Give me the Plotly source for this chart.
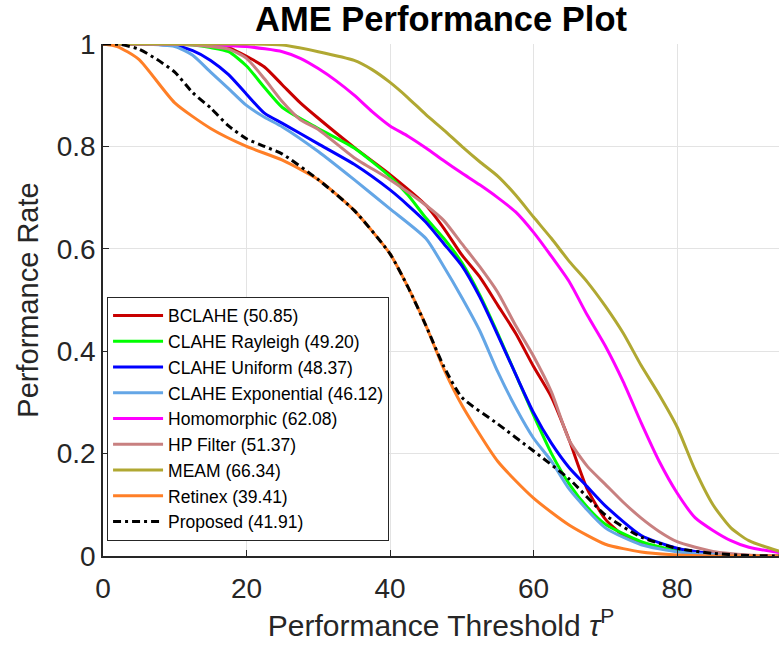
import plotly.graph_objects as go

# ---- data ----
bclahe_x = [0,5,10,15,17.5,20,22.5,25,27.5,30,35,40,45,47.5,50,52.5,55,57.5,60,62.5,65,67.5,70,72.5,75,80,85,90,95]
bclahe_y = [1,1,1,0.998,0.993,0.976,0.955,0.92,0.885,0.855,0.798,0.745,0.685,0.64,0.588,0.545,0.49,0.435,0.37,0.31,0.225,0.13,0.072,0.04,0.025,0.01,0.003,0.001,0]

rayleigh_x = [0,5,10,12.5,15,17.5,20,22.5,25,30,35,40,42.5,45,47.5,50,52.5,55,57.5,60,62.5,65,67.5,70,75,80,85,90,95]
rayleigh_y = [1,1,1,0.998,0.993,0.985,0.957,0.915,0.876,0.835,0.797,0.741,0.705,0.66,0.62,0.573,0.51,0.435,0.355,0.275,0.2,0.14,0.095,0.062,0.028,0.01,0.003,0.001,0]

uniform_x = [0,5,10,12.5,15,17.5,20,22.5,25,30,35,40,42.5,45,47.5,50,52.5,55,57.5,60,62.5,65,67.5,70,75,80,85,90,95]
uniform_y = [1,1,0.997,0.987,0.968,0.94,0.902,0.865,0.845,0.805,0.765,0.715,0.685,0.652,0.61,0.567,0.506,0.432,0.355,0.28,0.22,0.172,0.135,0.098,0.04,0.015,0.004,0.001,0]

expo_x = [0,5,10,12.5,15,17.5,20,22.5,25,30,35,40,45,47.5,50,52.5,55,57.5,60,62.5,65,70,75,80,85,90,95]
expo_y = [1,1,0.995,0.978,0.945,0.913,0.88,0.857,0.838,0.79,0.735,0.678,0.62,0.565,0.505,0.44,0.36,0.29,0.23,0.185,0.13,0.055,0.022,0.008,0.003,0.001,0]

homo_x = [0,5,10,15,20,25,27.5,30,32.5,35,37.5,40,42.5,45,47.5,50,52.5,55,57.5,60,62.5,65,67.5,70,72.5,75,77.5,80,82.5,85,87.5,90,95]
homo_y = [1,1,1,0.998,0.995,0.985,0.972,0.952,0.928,0.9,0.868,0.84,0.82,0.797,0.772,0.748,0.725,0.7,0.672,0.632,0.585,0.535,0.47,0.41,0.34,0.26,0.185,0.123,0.075,0.05,0.03,0.017,0.005]

hp_x = [0,5,10,12.5,15,17.5,20,22.5,25,27.5,30,35,40,45,47.5,50,52.5,55,57.5,60,62.5,65,67.5,70,72.5,75,77.5,80,85,90,95]
hp_y = [1,1,1,0.998,0.995,0.99,0.972,0.932,0.887,0.852,0.833,0.778,0.735,0.685,0.655,0.61,0.565,0.515,0.45,0.39,0.32,0.225,0.175,0.14,0.105,0.074,0.048,0.028,0.009,0.002,0]

meam_x = [0,10,20,25,30,35,37.5,40,42.5,45,47.5,50,52.5,55,57.5,60,62.5,65,67.5,70,72.5,75,77.5,80,82.5,85,87.5,90,95]
meam_y = [1,1,1,0.998,0.985,0.968,0.95,0.925,0.895,0.862,0.832,0.8,0.77,0.742,0.705,0.662,0.62,0.575,0.535,0.488,0.435,0.372,0.315,0.252,0.168,0.1,0.055,0.03,0.006]

retinex_x = [0,2,5,10,15,20,25,30,35,40,42.5,45,47.5,50,55,60,65,70,75,80,85,90,95]
retinex_y = [1,0.995,0.97,0.885,0.835,0.80,0.773,0.735,0.675,0.59,0.525,0.45,0.365,0.295,0.185,0.113,0.06,0.023,0.008,0.002,0,0,0]

prop_x = [0,2.5,5,7.5,10,12.5,15,17.5,20,22.5,25,30,35,40,42.5,45,47.5,50,55,60,65,70,75,80,85,90,95]
prop_y = [1,0.999,0.99,0.97,0.945,0.905,0.875,0.84,0.815,0.80,0.785,0.735,0.675,0.59,0.525,0.45,0.37,0.31,0.258,0.205,0.15,0.08,0.037,0.015,0.005,0.001,0]

names = ["BCLAHE (50.85)", "CLAHE Rayleigh (49.20)", "CLAHE Uniform (48.37)",
         "CLAHE Exponential (46.12)", "Homomorphic (62.08)", "HP Filter (51.37)",
         "MEAM (66.34)", "Retinex (39.41)", "Proposed (41.91)"]
colors = ["#C80000", "#00FF00", "#0000FF", "#64A6E6", "#FF00FF", "#C88080",
          "#B0A832", "#FF7F27", "#000000"]
xs = [bclahe_x, rayleigh_x, uniform_x, expo_x, homo_x, hp_x, meam_x, retinex_x, prop_x]
ys = [bclahe_y, rayleigh_y, uniform_y, expo_y, homo_y, hp_y, meam_y, retinex_y, prop_y]

fig = go.Figure()
for i, (n, c, x, y) in enumerate(zip(names, colors, xs, ys)):
    dash = "8px,4px,3px,4px" if i == 8 else "solid"
    fig.add_trace(go.Scatter(x=x, y=y, mode="lines", name=n,
                             line=dict(color=c, width=3, dash=dash, shape="spline", smoothing=0.6)))

font_family = "Liberation Sans, Arial, sans-serif"
fig.update_layout(
    width=779, height=657,
    margin=dict(l=103, r=0, t=44, b=101),
    paper_bgcolor="white", plot_bgcolor="white",
    title=dict(text="<b>AME Performance Plot</b>", x=(103 + 779) / 2 / 779, xanchor="center",
               y=1 - 19 / 657, yanchor="middle",
               font=dict(family=font_family, size=34.5, color="black")),
    font=dict(family=font_family, color="#262626"),
    legend=dict(x=0.006, y=0.03, xanchor="left", yanchor="bottom",
                bgcolor="white", bordercolor="#262626", borderwidth=1,
                font=dict(size=17.5, color="black"), tracegroupgap=0,
                itemwidth=50),
    showlegend=True,
)
fig.update_xaxes(range=[0, 94.2], tickvals=[0, 20, 40, 60, 80],
                 showgrid=True, gridcolor="#E3E3E3", gridwidth=1,
                 showline=True, linecolor="#262626", linewidth=1.5,
                 ticks="inside", ticklen=6, tickcolor="#262626",
                 tickfont=dict(size=28, color="#262626"), zeroline=False,
                 ticklabelstandoff=7,
                 title=dict(text="Performance Threshold <i>τ</i><sup>P</sup>",
                            font=dict(size=30, color="#262626"), standoff=7))
fig.update_yaxes(range=[0, 1], tickvals=[0, 0.2, 0.4, 0.6, 0.8, 1],
                 ticktext=["0", "0.2", "0.4", "0.6", "0.8", "1"],
                 showgrid=True, gridcolor="#E3E3E3", gridwidth=1,
                 showline=True, linecolor="#262626", linewidth=1.5,
                 ticks="inside", ticklen=6, tickcolor="#262626",
                 tickfont=dict(size=28, color="#262626"), zeroline=False,
                 title=dict(text="Performance Rate", font=dict(size=29, color="#262626"), standoff=10))

fig.write_html("out.html")
